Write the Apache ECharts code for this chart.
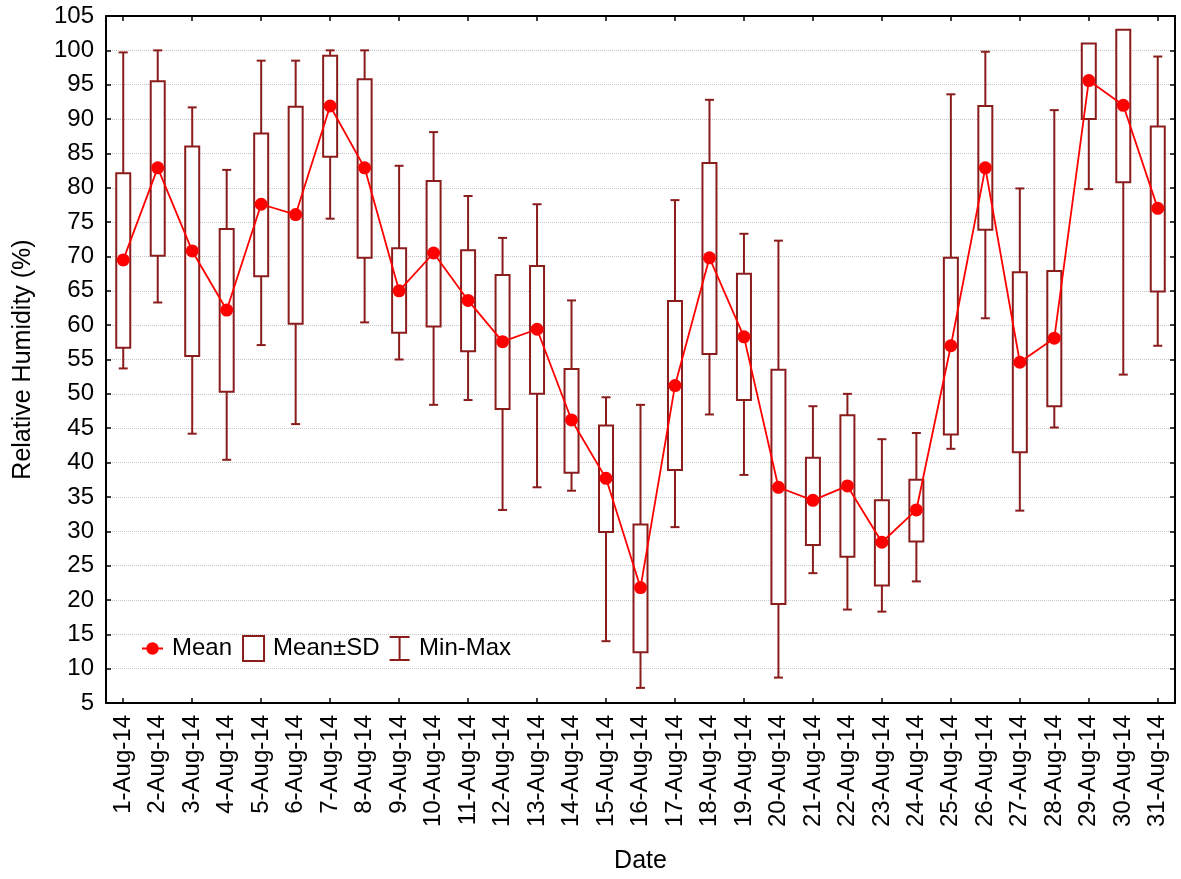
<!DOCTYPE html>
<html>
<head>
<meta charset="utf-8">
<script src="https://cdn.jsdelivr.net/npm/echarts@6/dist/echarts.min.js"></script>
<style>
html,body{margin:0;padding:0;background:#fff;}
#chart{width:1181px;height:879px;}
</style>
</head>
<body>
<div id="chart"></div>
<script>
var categories = ['1-Aug-14','2-Aug-14','3-Aug-14','4-Aug-14','5-Aug-14','6-Aug-14','7-Aug-14','8-Aug-14','9-Aug-14','10-Aug-14',
  '11-Aug-14','12-Aug-14','13-Aug-14','14-Aug-14','15-Aug-14','16-Aug-14','17-Aug-14','18-Aug-14','19-Aug-14','20-Aug-14',
  '21-Aug-14','22-Aug-14','23-Aug-14','24-Aug-14','25-Aug-14','26-Aug-14','27-Aug-14','28-Aug-14','29-Aug-14','30-Aug-14','31-Aug-14'];
var meanValues = [69.5,82.9,70.8,62.2,77.6,76.1,91.9,82.9,65.0,70.5,
  63.6,57.6,59.4,46.2,37.7,21.8,51.2,69.8,58.3,36.4,
  34.5,36.6,28.4,33.1,57.0,82.9,54.6,58.1,95.6,92.0,77.0];
var sdHighValues = [82.1,95.5,86.0,74.0,87.9,91.8,99.2,95.8,71.2,81.0,
  70.9,67.3,68.6,53.6,45.4,31.0,63.5,83.6,67.5,53.5,
  40.7,46.9,34.5,37.5,69.8,91.9,67.7,67.9,101.0,103.0,88.9];
var sdLowValues = [56.7,70.1,55.5,50.3,67.1,60.2,84.5,69.8,58.9,59.8,
  56.2,47.8,50.0,38.5,29.9,12.4,38.9,55.8,49.1,19.4,
  28.0,26.3,22.1,28.5,44.1,73.9,41.5,48.2,90.0,80.8,64.9];
var maxValues = [99.7,100,91.7,82.6,98.5,98.5,100,100,83.2,88.1,
  78.8,72.7,77.6,63.6,49.5,48.4,78.2,92.8,73.3,72.3,
  48.2,50.0,43.4,44.3,93.6,99.8,79.9,91.3,100,100,99.1];
var minValues = [53.7,63.3,44.2,40.4,57.1,45.6,75.5,60.4,55.0,48.4,
  49.1,33.1,36.4,35.9,14.0,7.2,30.6,47.0,38.2,8.7,
  23.9,18.6,18.3,22.7,42.0,61.0,33.0,45.1,79.8,52.8,57.0];
var yTicks = {min: 5, max: 105, interval: 5};

var DARK = '#8b1c1c';
var RED = '#ff0000';
var FONT = '"Liberation Sans", Arial, sans-serif';

var whiskerData = categories.map(function (c, i) { return [i, minValues[i], maxValues[i]]; });
var boxData = categories.map(function (c, i) { return [i, sdLowValues[i], sdHighValues[i]]; });

function renderWhisker(params, api) {
  var i = api.value(0);
  var pLo = api.coord([i, api.value(1)]);
  var pHi = api.coord([i, api.value(2)]);
  var half = 4.5;
  var st = {stroke: DARK, lineWidth: 2, fill: null};
  return {
    type: 'group',
    children: [
      {type: 'line', shape: {x1: pLo[0], y1: pLo[1], x2: pHi[0], y2: pHi[1]}, style: st},
      {type: 'line', shape: {x1: pLo[0] - half, y1: pLo[1], x2: pLo[0] + half, y2: pLo[1]}, style: st},
      {type: 'line', shape: {x1: pHi[0] - half, y1: pHi[1], x2: pHi[0] + half, y2: pHi[1]}, style: st}
    ]
  };
}
function renderBox(params, api) {
  var i = api.value(0);
  var pLo = api.coord([i, api.value(1)]);
  var pHi = api.coord([i, api.value(2)]);
  var w = 14;
  return {
    type: 'rect',
    shape: {x: pLo[0] - w / 2, y: pHi[1], width: w, height: pLo[1] - pHi[1]},
    style: {fill: '#ffffff', stroke: DARK, lineWidth: 2}
  };
}

var chart = echarts.init(document.getElementById('chart'), null, {renderer: 'canvas'});
chart.setOption({
  animation: false,
  backgroundColor: '#ffffff',
  textStyle: {fontFamily: FONT},
  grid: {left: 106, right: 6, top: 16, bottom: 176, containLabel: false},
  legend: {
    left: 137, top: 630,
    itemWidth: 21, itemHeight: 25, itemGap: 10,
    textStyle: {fontSize: 24, color: '#000', fontFamily: FONT, padding: [0, 0, 0, 4]},
    data: [
      {name: 'Mean', icon: 'path://M0,11.5h5v2h-5z M17,11.5h5v2h-5z M4.5,12.5a6.5,6.5 0 1,1 13,0a6.5,6.5 0 1,1 -13,0z', itemStyle: {color: RED}},
      {name: 'Mean±SD', icon: 'rect', itemStyle: {color: '#ffffff', borderColor: DARK, borderWidth: 2}},
      {name: 'Min-Max', icon: 'path://M0,0h20v2h-9v21h9v2h-20v-2h9v-21h-9z', itemStyle: {color: DARK}}
    ]
  },
  xAxis: [{
    type: 'category', data: categories, boundaryGap: true,
    name: 'Date', nameLocation: 'middle', nameGap: 146,
    nameTextStyle: {fontSize: 25, color: '#000', fontFamily: FONT},
    axisLine: {show: true, lineStyle: {color: '#000', width: 2}},
    axisTick: {show: true, inside: true, length: 5, interval: 1, alignWithLabel: true, lineStyle: {color: '#000', width: 1.5}},
    axisLabel: {rotate: 90, interval: 0, margin: 12, fontSize: 24, color: '#000', fontFamily: FONT},
    splitLine: {show: false}
  }, {
    type: 'category', data: categories, boundaryGap: true, position: 'top',
    axisLine: {show: true, lineStyle: {color: '#000', width: 2}},
    axisTick: {show: true, inside: true, length: 5, interval: 1, alignWithLabel: true, lineStyle: {color: '#000', width: 1.5}},
    axisLabel: {show: false},
    splitLine: {show: false}
  }],
  yAxis: [{
    type: 'value', min: yTicks.min, max: yTicks.max, interval: yTicks.interval,
    name: 'Relative Humidity (%)', nameLocation: 'middle', nameGap: 70,
    nameTextStyle: {fontSize: 25, color: '#000', fontFamily: FONT},
    axisLine: {show: true, lineStyle: {color: '#000', width: 2}},
    axisTick: {show: true, inside: true, length: 5, lineStyle: {color: '#000', width: 1.5}},
    axisLabel: {margin: 12, fontSize: 24, color: '#000', fontFamily: FONT},
    splitLine: {show: true, lineStyle: {color: '#c4c4c4', type: 'dotted', width: 1}}
  }, {
    type: 'value', min: yTicks.min, max: yTicks.max, interval: yTicks.interval, position: 'right',
    axisLine: {show: true, lineStyle: {color: '#000', width: 2}},
    axisTick: {show: true, inside: true, length: 5, lineStyle: {color: '#000', width: 1.5}},
    axisLabel: {show: false},
    splitLine: {show: false}
  }],
  series: [{
    name: 'Min-Max', type: 'custom', renderItem: renderWhisker,
    data: whiskerData, encode: {x: 0, y: [1, 2]}, itemStyle: {color: DARK}, z: 2
  }, {
    name: 'Mean±SD', type: 'custom', renderItem: renderBox,
    data: boxData, encode: {x: 0, y: [1, 2]}, itemStyle: {color: '#ffffff', borderColor: DARK}, z: 3
  }, {
    name: 'Mean', type: 'line', data: meanValues,
    symbol: 'circle', symbolSize: 13, showSymbol: true,
    lineStyle: {color: RED, width: 1.8},
    itemStyle: {color: RED},
    z: 4
  }]
});
</script>
</body>
</html>
